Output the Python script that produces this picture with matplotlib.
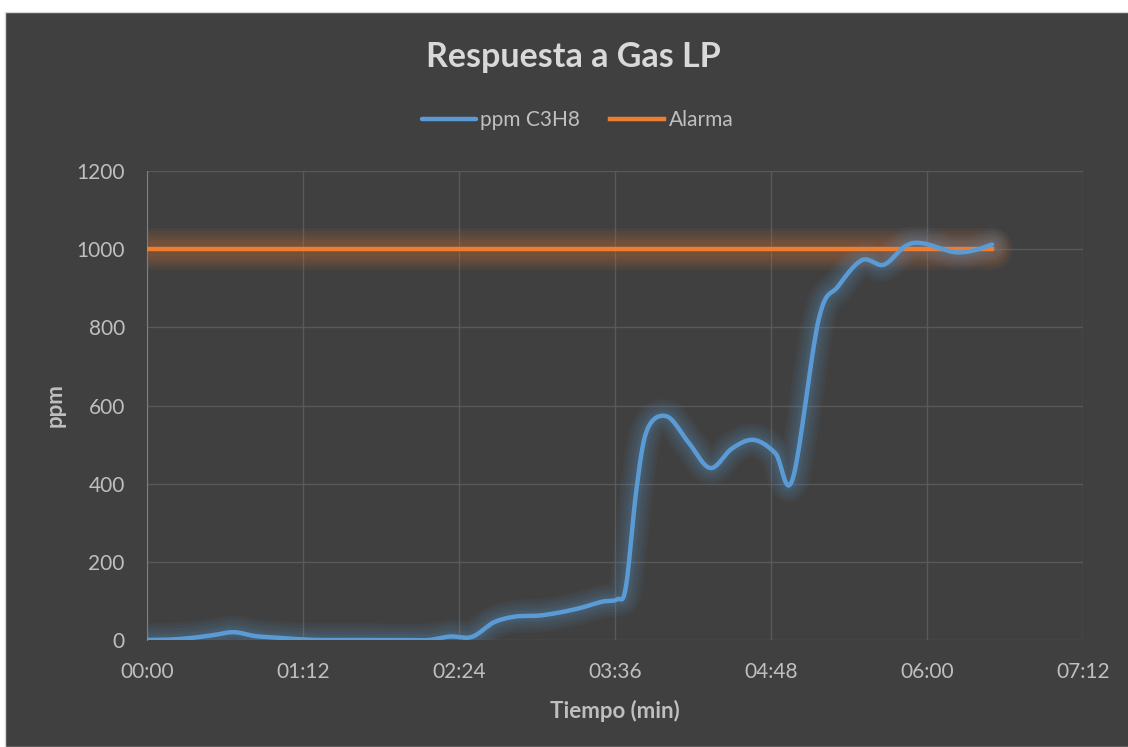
import matplotlib
matplotlib.use("Agg")
import matplotlib.pyplot as plt
import numpy as np
from matplotlib.patches import Rectangle
from matplotlib.ticker import FuncFormatter, MultipleLocator

# sample times (s) and readings
tiempo_s = [0, 10, 20, 30, 40, 50, 60, 70, 80, 90, 100, 110, 120, 130,
            140, 150, 160, 170, 180, 190, 200, 210, 217, 221, 226, 231,
            240, 250, 260, 270, 280, 290, 298, 310, 319, 330, 340, 350,
            358, 372, 381, 390]
ppm_c3h8 = [0, 1, 5, 12, 20, 10, 6, 2, 0, 0, 0, 0, 0, 0,
            9, 8, 45, 60, 62, 70, 82, 98, 104, 135, 390, 540,
            572, 505, 440, 490, 512, 478, 412, 820, 905, 972, 960, 1008,
            1015, 993, 996, 1012]
alarma = [1000] * len(tiempo_s)

BLUE = "#5B9BD5"
ORANGE = "#ED7D31"
BG = "#404040"
TXT = "#BFBFBF"
GRID = "#595959"
FONT = ["Lato", "DejaVu Sans"]


def smooth(x, y, n=20):
    # catmull-rom like excel's smoothed line
    x = np.asarray(x, float)
    y = np.asarray(y, float)
    px = np.concatenate([[x[0]], x, [x[-1]]])
    py = np.concatenate([[y[0]], y, [y[-1]]])
    xs, ys = [], []
    t = np.linspace(0, 1, n, endpoint=False)
    for i in range(1, len(px) - 2):
        p0, p1, p2, p3 = [np.array([px[j], py[j]]) for j in range(i - 1, i + 3)]
        c1 = p1 + (p2 - p0) / 6
        c2 = p2 - (p3 - p1) / 6
        b = ((1 - t) ** 3)[:, None] * p1 + (3 * (1 - t) ** 2 * t)[:, None] * c1 \
            + (3 * (1 - t) * t ** 2)[:, None] * c2 + (t ** 3)[:, None] * p2
        xs.extend(b[:, 0])
        ys.extend(b[:, 1])
    xs.append(x[-1])
    ys.append(y[-1])
    return np.array(xs), np.array(ys)


def glow(ax, x, y, color, widths):
    for lw in widths:
        ax.plot(x, y, color=color, lw=lw, alpha=0.06, solid_capstyle="round", zorder=2)


fig = plt.figure(figsize=(11.28, 7.47), dpi=100, facecolor="white")
fig.patches.append(Rectangle((5 / 1128, 0), 1, 1 - 12 / 747, transform=fig.transFigure,
                             facecolor=BG, edgecolor="#D9D9D9", lw=1, zorder=-5))

ax = fig.add_axes([147 / 1128, 1 - 640 / 747, 936 / 1128, 469 / 747])
ax.set_facecolor(BG)

sx, sy = smooth(tiempo_s, ppm_c3h8)
glow(ax, tiempo_s, alarma, ORANGE, [30, 26, 22, 18, 14, 10])
glow(ax, sx, sy, BLUE, [24, 20, 16, 12, 9, 7])
ax.plot(tiempo_s, alarma, color=ORANGE, lw=3.2, zorder=3, label="Alarma")
ax.plot(sx, sy, color=BLUE, lw=3.2, zorder=4, label="ppm C3H8", solid_capstyle="round")

ax.set_xlim(0, 432)
ax.set_ylim(0, 1200)
ax.xaxis.set_major_locator(MultipleLocator(72))
ax.yaxis.set_major_locator(MultipleLocator(200))
ax.xaxis.set_major_formatter(FuncFormatter(lambda v, p: "%02d:%02d" % (int(v) // 60, int(v) % 60)))
ax.grid(True, color=GRID, lw=1)
ax.set_axisbelow(True)
for s in ax.spines.values():
    s.set_visible(False)
ax.spines["left"].set_visible(True)
ax.spines["left"].set_color("#7F7F7F")
ax.tick_params(length=0, colors=TXT, labelsize=15)
for lab in ax.get_xticklabels() + ax.get_yticklabels():
    lab.set_family(FONT)
ax.tick_params(axis="x", pad=16)
ax.tick_params(axis="y", pad=16)

ax.set_xlabel("Tiempo (min)", color=TXT, fontsize=16, fontweight="bold", family=FONT, labelpad=13)
ax.set_ylabel("ppm", color=TXT, fontsize=16, fontweight="bold", family=FONT, labelpad=8)

fig.text(573 / 1128, 1 - 57 / 747, "Respuesta a Gas LP", ha="center", va="center",
         color="#D9D9D9", fontsize=24.5, fontweight="bold", family=FONT)

h, l = ax.get_legend_handles_labels()
leg = fig.legend(h[::-1], l[::-1], loc="center", bbox_to_anchor=(0.512, 1 - 120 / 747),
                 ncol=2, frameon=False, handlelength=2.6, handletextpad=0.2,
                 columnspacing=1.45, prop={"family": FONT, "size": 15})
for t in leg.get_texts():
    t.set_color(TXT)

fig.savefig("out.png", dpi=100, facecolor=fig.get_facecolor())
